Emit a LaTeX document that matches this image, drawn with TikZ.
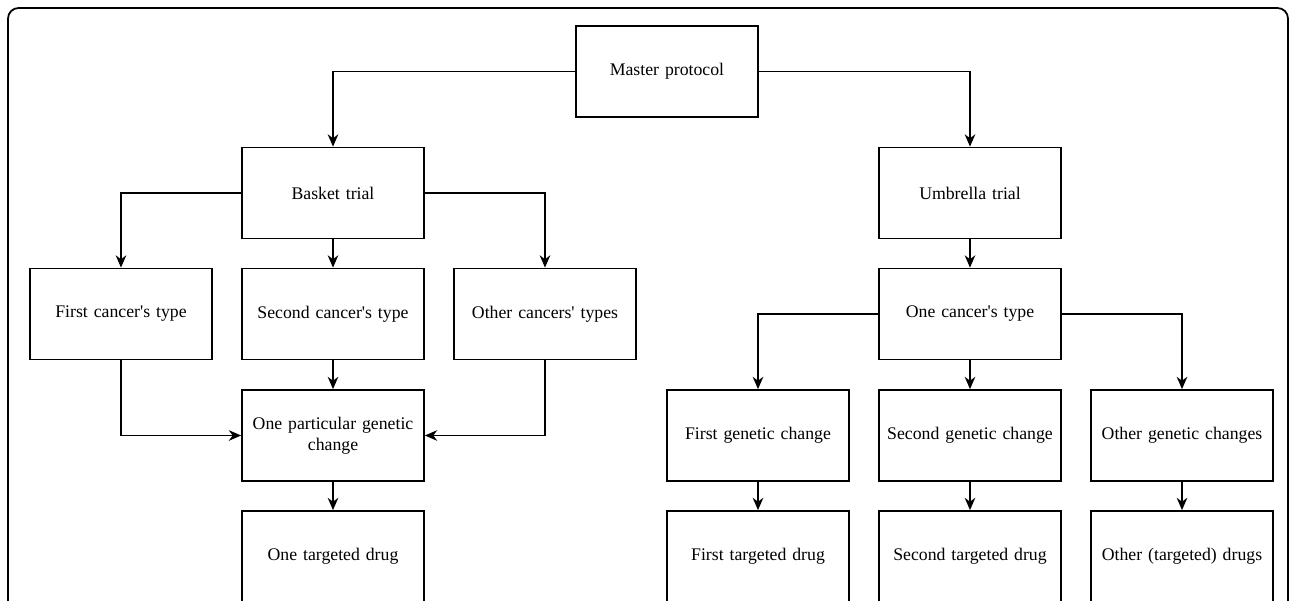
\documentclass[tikz,border=0pt]{standalone}
\usepackage{fontspec}
\setmainfont{Liberation Serif}
\usetikzlibrary{arrows.meta}

\tikzset{
    box/.style={draw, line width=1pt, minimum width=3.64cm, minimum height=1.82cm,
        text width=3.55cm, align=center, inner sep=0pt,
        font=\fontsize{10.1pt}{11.8pt}\selectfont},
    conn/.style={line width=1pt, -{Stealth[length=7pt,width=6pt,inset=2.2pt]}}
}

\begin{document}
\begin{tikzpicture}[x=0.02cm, y=-0.02cm]

\useasboundingbox (0,0) rectangle (1295,601);

% outer frame
\draw[line width=1pt, rounded corners=6pt] (8,620) -- (8,8) -- (1288,8) -- (1288,620);

\node[box] (master) at (667,71.5) {Master protocol};

% basket side
\node[box] (basket) at (333,193) {Basket trial};
\node[box] (first) at (121,314) {First cancer\textquotesingle s type};
\node[box] (second) at (333,314) {Second cancer\textquotesingle s type};
\node[box] (others) at (545,314) {Other cancers\textquotesingle\ types};
\node[box] (particular) at (333,435.5) {One particular genetic\\ change};
\node[box] (onedrug) at (333,556.5) {One targeted drug};

% umbrella side
\node[box] (umbrella) at (970,193) {Umbrella trial};
\node[box] (onetype) at (970,314) {One cancer\textquotesingle s type};
\node[box] (gen1) at (758,435.5) {First genetic change};
\node[box] (gen2) at (970,435.5) {Second genetic change};
\node[box] (gen3) at (1182,435.5) {Other genetic changes};
\node[box] (drug1) at (758,556.5) {First targeted drug};
\node[box] (drug2) at (970,556.5) {Second targeted drug};
\node[box] (drug3) at (1182,556.5) {Other (targeted) drugs};

\draw[conn] (master.west) -| (basket.north);
\draw[conn] (master.east) -| (umbrella.north);

\draw[conn] (basket.west) -| (first.north);
\draw[conn] (basket) -- (second);
\draw[conn] (basket.east) -| (others.north);
\draw[conn] (first.south) |- (particular.west);
\draw[conn] (second) -- (particular);
\draw[conn] (others.south) |- (particular.east);
\draw[conn] (particular) -- (onedrug);

\draw[conn] (umbrella) -- (onetype);
\draw[conn] (onetype.west) -| (gen1.north);
\draw[conn] (onetype) -- (gen2);
\draw[conn] (onetype.east) -| (gen3.north);
\draw[conn] (gen1) -- (drug1);
\draw[conn] (gen2) -- (drug2);
\draw[conn] (gen3) -- (drug3);

\end{tikzpicture}
\end{document}
